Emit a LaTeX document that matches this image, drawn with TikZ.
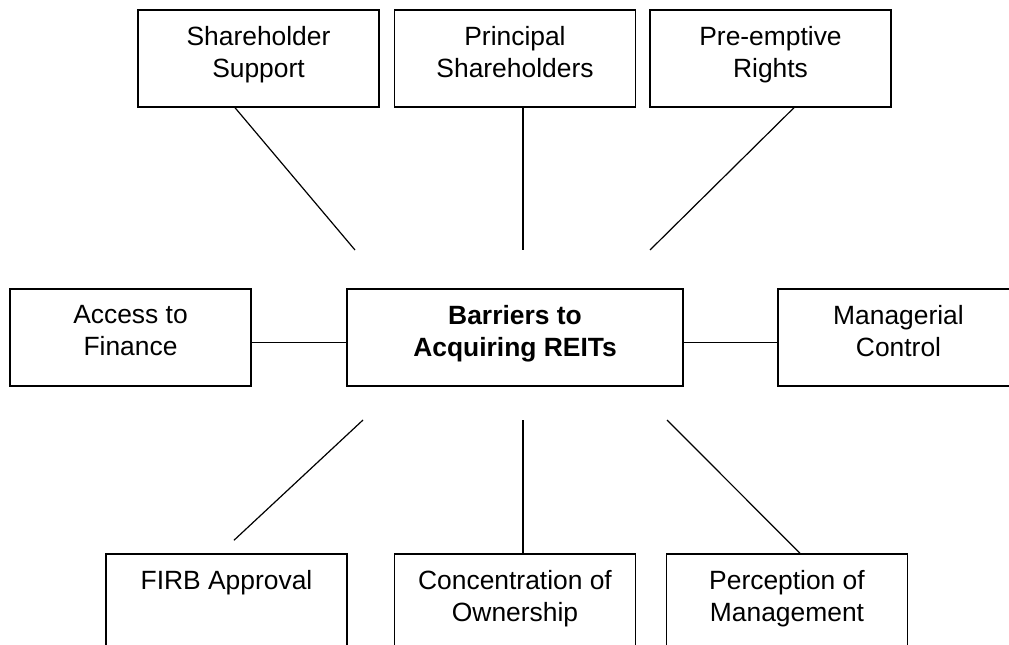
\documentclass[tikz,border=0pt]{standalone}
\usepackage{fontspec}
\setmainfont{Liberation Sans}

\begin{document}
\begin{tikzpicture}[x=0.75pt,y=-0.75pt,
  barrier/.style={draw,line width=1.1pt,minimum width=180.75pt,minimum height=72.75pt,inner sep=0pt,
    label={[anchor=north,align=center,inner sep=0pt,yshift=-12.75pt,font=\fontsize{19.8pt}{24pt}\selectfont]north:#1}},
  link/.style={line width=0.9pt}]
\clip (0,0) rectangle (1009,645);
% top row
\node[barrier={Shareholder\\Support}] (support) at (258.5,58.5) {};
\node[barrier={Principal\\Shareholders}] (principal) at (515,58.5) {};
\node[barrier={Pre-emptive\\Rights}] (rights) at (770.5,58.5) {};
% middle row
\node[barrier={Access to\\Finance}] (finance) at (130.5,337.5) {};
\node[barrier={\textbf{Barriers to}\\\textbf{Acquiring REITs}},minimum width=252pt] (reits) at (515,337.5) {};
\node[barrier={Managerial\\Control}] (control) at (898.5,337.5) {};
% bottom row
\node[barrier={FIRB Approval}] (firb) at (226.5,602.5) {};
\node[barrier={Concentration of\\Ownership}] (ownership) at (515,602.5) {};
\node[barrier={Perception of\\Management}] (perception) at (787,602.5) {};
% loose ends near the centre box
\coordinate (s1) at (355,250);
\coordinate (s2) at (523,250);
\coordinate (s3) at (650,250);
\coordinate (s6) at (363,420);
\coordinate (s7) at (523,420);
\coordinate (s8) at (667,420);
\coordinate (f1) at ([xshift=5.6pt,yshift=9.75pt]firb.north);
\draw[link] ([xshift=-17.6pt]support.south) -- (s1);
\draw[link] ([xshift=6pt]principal.south) -- (s2);
\draw[link] ([xshift=17.6pt]rights.south) -- (s3);
\draw[link] ([yshift=-4pt]finance.east) -- ([yshift=-4pt]reits.west);
\draw[link] ([yshift=-4pt]reits.east) -- ([yshift=-4pt]control.west);
\draw[link] (s6) -- (f1);
\draw[link] (s7) -- ([xshift=6pt]ownership.north);
\draw[link] (s8) -- ([xshift=9.75pt]perception.north);
\end{tikzpicture}
\end{document}
